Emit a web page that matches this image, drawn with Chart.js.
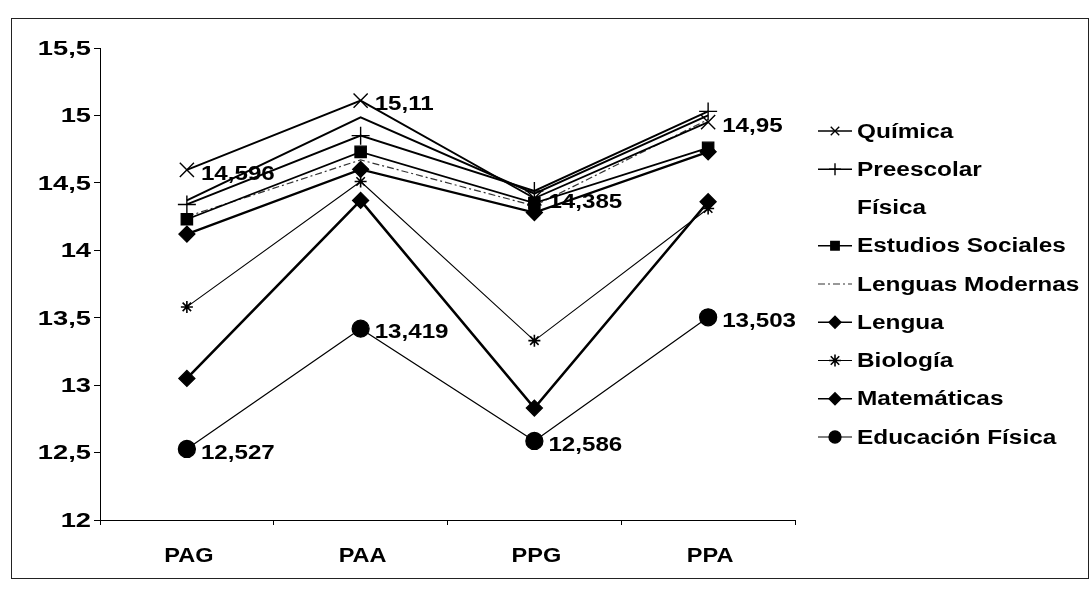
<!DOCTYPE html>
<html>
<head>
<meta charset="utf-8">
<script src="https://cdn.jsdelivr.net/npm/chart.js@4.4.1/dist/chart.umd.min.js"></script>
<style>
  html, body { margin: 0; padding: 0; background: #fff; }
  #wrap { position: relative; width: 1092px; height: 590px; }
  #frame { position: absolute; left: 11px; top: 18px; width: 1078px; height: 561px; border: 1px solid #222; box-sizing: border-box; pointer-events: none; }
  canvas { position: absolute; left: 0; top: 0; }
</style>
</head>
<body>
<div id="wrap">
  <canvas id="c" width="1092" height="590"></canvas>
  <div id="frame"></div>
</div>
<script>
// Categories and tick values
const categories = ['PAG', 'PAA', 'PPG', 'PPA'];
const yTicks = [12, 12.5, 13, 13.5, 14, 14.5, 15, 15.5];

// Series values per subject
const quimica          = [14.596, 15.11, 14.385, 14.95];
const preescolar       = [14.34, 14.85, 14.44, 15.03];
const fisica           = [14.37, 14.985, 14.42, 15.00];
const estudiosSociales = [14.23, 14.73, 14.35, 14.76];
const lenguasModernas  = [14.25, 14.67, 14.33, 14.97];
const lengua           = [14.12, 14.60, 14.28, 14.73];
const biologia         = [13.58, 14.51, 13.33, 14.31];
const matematicas      = [13.05, 14.37, 12.83, 14.36];
const educacionFisica  = [12.527, 13.419, 12.586, 13.503];

const FONT = '"Liberation Sans", Arial, sans-serif';

function series(label, data, opts) {
  return Object.assign({
    label, data,
    borderColor: '#000', backgroundColor: '#000',
    pointBorderColor: '#000', pointBackgroundColor: '#000',
    borderWidth: 1.5, pointRadius: 5, pointBorderWidth: 1.3,
    tension: 0, fill: false
  }, opts);
}

const datasets = [
  series('Química', quimica, { pointStyle: 'crossRot', pointRadius: 10, pointBorderWidth: 1.4, borderWidth: 1.8, valueLabels: true }),
  series('Preescolar', preescolar, { pointStyle: 'cross', pointRadius: 9, pointBorderWidth: 1.4, borderWidth: 2 }),
  series('Física', fisica, { pointStyle: false, pointRadius: 0, borderWidth: 2 }),
  series('Estudios Sociales', estudiosSociales, { pointStyle: 'rect', pointRadius: 8, borderWidth: 1.8 }),
  series('Lenguas Modernas', lenguasModernas, { pointStyle: false, pointRadius: 0, borderWidth: 1.2, borderColor: '#333', borderDash: [7, 3, 2, 3] }),
  series('Lengua', lengua, { pointStyle: 'rectRot', pointRadius: 8, borderWidth: 2.2 }),
  series('Biología', biologia, { pointStyle: 'star', pointRadius: 6, pointBorderWidth: 1.6, borderWidth: 1.1 }),
  series('Matemáticas', matematicas, { pointStyle: 'rectRot', pointRadius: 8, borderWidth: 2.6 }),
  series('Educación Física', educacionFisica, { pointStyle: 'circle', pointRadius: 8.5, borderWidth: 1.2, valueLabels: true })
];

const fmt = v => String(v).replace('.', ',');

// Text drawn with a horizontal stretch factor
function stretchText(ctx, text, x, y, sx, align) {
  ctx.save();
  ctx.translate(x, y);
  ctx.scale(sx, 1);
  ctx.textAlign = align;
  ctx.fillText(text, 0, 0);
  ctx.restore();
}

// Axis tick labels placed from the chart's own scales
const axisLabelPlugin = {
  id: 'axisLabels',
  afterDraw(chart) {
    const ctx = chart.ctx;
    const xs = chart.scales.x, ys = chart.scales.y;
    ctx.save();
    ctx.fillStyle = '#000';
    ctx.textBaseline = 'middle';
    ctx.font = 'bold 21px ' + FONT;
    ys.ticks.forEach(t => stretchText(ctx, fmt(t.value), 91, ys.getPixelForValue(t.value) + 1, 1.3, 'right'));
    categories.forEach((c, i) => stretchText(ctx, c, xs.getPixelForValue(i) + 2, 556, 1.12, 'center'));
    ctx.restore();
  }
};

// Value labels next to the points of flagged series
const valueLabelPlugin = {
  id: 'valueLabels',
  afterDatasetsDraw(chart) {
    const ctx = chart.ctx;
    ctx.save();
    ctx.font = 'bold 21px ' + FONT;
    ctx.fillStyle = '#000';
    ctx.textBaseline = 'middle';
    chart.data.datasets.forEach((ds, i) => {
      if (!ds.valueLabels) return;
      chart.getDatasetMeta(i).data.forEach((pt, j) => {
        stretchText(ctx, fmt(ds.data[j]), pt.x + 14, pt.y + 4, 1.15, 'left');
      });
    });
    ctx.restore();
  }
};

// Legend: line sample with marker, then the name
const legendPlugin = {
  id: 'sideLegend',
  afterDraw(chart) {
    const ctx = chart.ctx;
    const x0 = 818, x1 = 852, tx = 857, y0 = 131, step = 38.25;
    ctx.save();
    ctx.font = 'bold 20px ' + FONT;
    ctx.textBaseline = 'middle';
    chart.data.datasets.forEach((ds, i) => {
      const y = y0 + i * step;
      if (ds.label !== 'Física') {
        ctx.strokeStyle = ds.borderColor;
        ctx.lineWidth = Math.min(ds.borderWidth, 1.6);
        ctx.setLineDash(ds.borderDash || []);
        ctx.beginPath(); ctx.moveTo(x0, y); ctx.lineTo(x1, y); ctx.stroke();
        ctx.setLineDash([]);
        if (ds.pointStyle) {
          ctx.fillStyle = '#000'; ctx.strokeStyle = '#000';
          ctx.lineWidth = ds.pointBorderWidth;
          Chart.helpers.drawPoint(ctx, { pointStyle: ds.pointStyle, radius: Math.min(ds.pointRadius, 6), rotation: 0, borderWidth: ds.pointBorderWidth }, (x0 + x1) / 2, y);
        }
      }
      ctx.fillStyle = '#000';
      stretchText(ctx, ds.label, tx, y + 1, 1.22, 'left');
    });
    ctx.restore();
  }
};

new Chart(document.getElementById('c'), {
  type: 'line',
  data: { labels: categories, datasets },
  options: {
    responsive: false,
    animation: false,
    layout: { padding: { left: 0, top: 48, right: 297, bottom: 0 } },
    plugins: { legend: { display: false }, tooltip: { enabled: false } },
    scales: {
      x: {
        offset: true,
        grid: { display: true, drawOnChartArea: false, offset: true, color: '#000', tickLength: 5, tickColor: '#000' },
        border: { display: true, color: '#000', width: 1 },
        ticks: { display: false },
        afterFit(s) { s.height = 70; }
      },
      y: {
        min: 12, max: 15.5,
        afterBuildTicks(s) { s.ticks = yTicks.map(v => ({ value: v })); },
        grid: { display: true, drawOnChartArea: false, color: '#000', tickLength: 6, tickColor: '#000' },
        border: { display: true, color: '#000', width: 1 },
        ticks: { display: false },
        afterFit(s) { s.width = 100; }
      }
    }
  },
  plugins: [valueLabelPlugin, axisLabelPlugin, legendPlugin]
});
</script>
</body>
</html>
